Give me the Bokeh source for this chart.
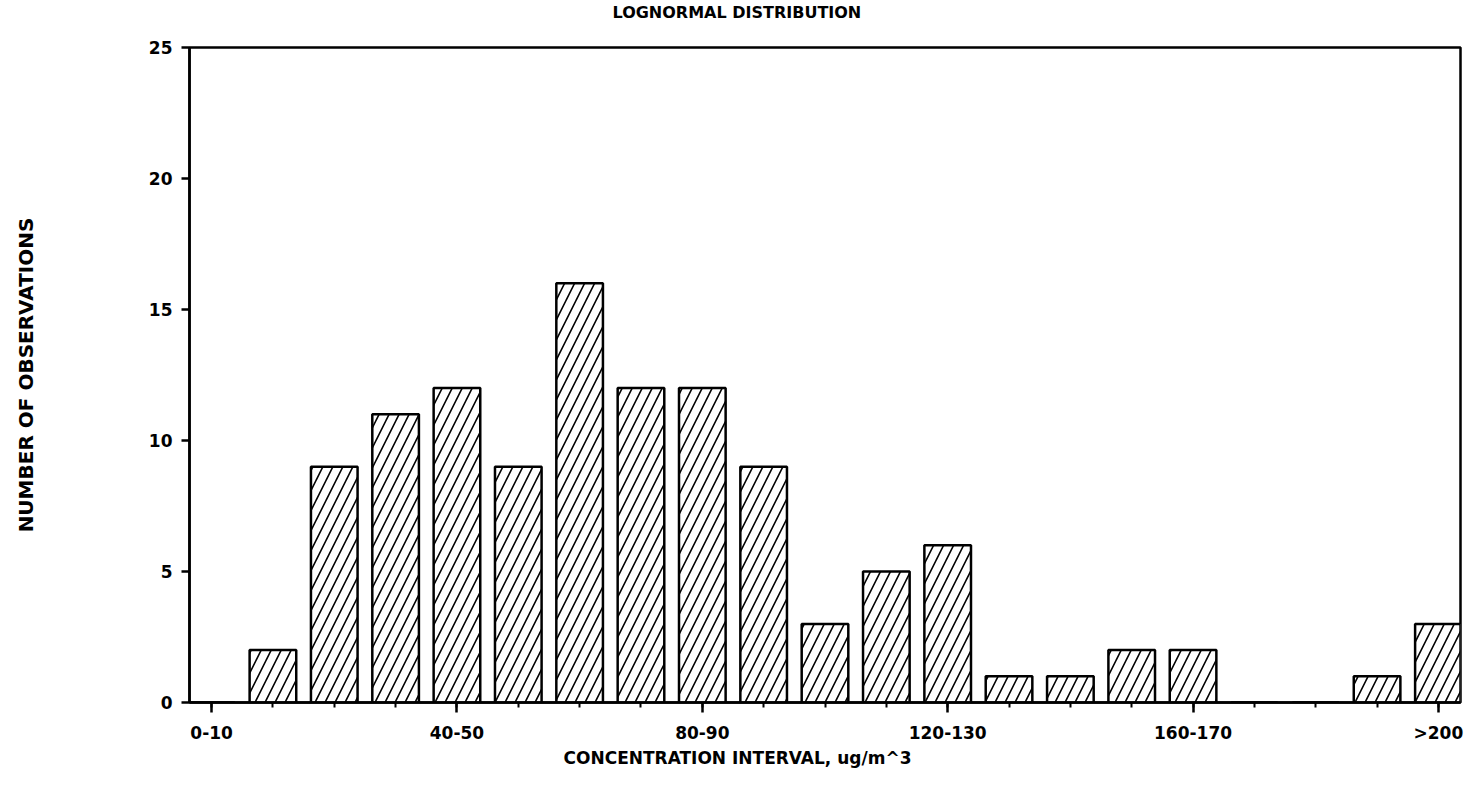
from bokeh.plotting import figure
from bokeh.models import ColumnDataSource, FixedTicker, Title, Range1d
from bokeh.embed import file_html
from bokeh.resources import INLINE

# ---- data ----
intervals = ["0-10", "10-20", "20-30", "30-40", "40-50", "50-60", "60-70",
             "70-80", "80-90", "90-100", "100-110", "110-120", "120-130",
             "130-140", "140-150", "150-160", "160-170", "170-180",
             "180-190", "190-200", ">200"]
counts = [0, 2, 9, 11, 12, 9, 16, 12, 12, 9, 3, 5, 6, 1, 1, 2, 2, 0, 0, 1, 3]
labeled_intervals = ["0-10", "40-50", "80-90", "120-130", "160-170", ">200"]
y_ticks = [0, 5, 10, 15, 20, 25]

title_text = "LOGNORMAL DISTRIBUTION"
x_title = "CONCENTRATION INTERVAL, ug/m^3"
y_title = "NUMBER OF OBSERVATIONS"

FONT = "DejaVu Sans"

idx = list(range(len(intervals)))
src = ColumnDataSource(dict(x=idx, top=counts, label=intervals))

p = figure(width=1467, height=790, output_backend="svg", toolbar_location=None,
           x_range=Range1d(-0.36, len(intervals) - 1 + 0.36),
           y_range=Range1d(y_ticks[0], y_ticks[-1]),
           min_border_left=189, min_border_right=7,
           min_border_top=47, min_border_bottom=88,
           background_fill_color="white", border_fill_color="white")

p.outline_line_color = "black"
p.outline_line_width = 2.5
p.outline_line_alpha = 1.0
p.grid.visible = False

p.vbar(x="x", top="top", bottom=0, width=0.76, source=src,
       fill_color="white", line_color="black", line_width=2.5,
       hatch_pattern="right_diagonal_line", hatch_color="black",
       hatch_scale=20, hatch_weight=1.6)

# x axis
major = [intervals.index(l) for l in labeled_intervals]
p.xaxis.ticker = FixedTicker(ticks=major, minor_ticks=idx)
p.xaxis.major_label_overrides = {i: intervals[i] for i in major}
p.xaxis.axis_line_width = 2.5
p.xaxis.major_tick_out = 10
p.xaxis.major_tick_in = 0
p.xaxis.minor_tick_out = 5
p.xaxis.minor_tick_in = 0
p.xaxis.major_tick_line_width = 2.5
p.xaxis.minor_tick_line_width = 2
p.xaxis.major_label_standoff = 10
p.xaxis.major_label_text_font = FONT
p.xaxis.major_label_text_font_style = "bold"
p.xaxis.major_label_text_font_size = "17px"
p.xaxis.major_label_text_color = "black"

# y axis
p.yaxis.ticker = FixedTicker(ticks=y_ticks)
p.yaxis.axis_line_width = 2.5
p.yaxis.major_tick_out = 8
p.yaxis.major_tick_in = 0
p.yaxis.minor_tick_line_color = None
p.yaxis.major_tick_line_width = 2.5
p.yaxis.major_label_standoff = 9
p.yaxis.major_label_text_font = FONT
p.yaxis.major_label_text_font_style = "bold"
p.yaxis.major_label_text_font_size = "17px"
p.yaxis.major_label_text_color = "black"
p.yaxis.axis_label = y_title
p.yaxis.axis_label_text_font = FONT
p.yaxis.axis_label_text_font_style = "bold"
p.yaxis.axis_label_text_font_size = "20px"
p.yaxis.axis_label_text_color = "black"
p.yaxis.axis_label_standoff = 108

# titles: a blank spacer sits next to the frame, the real title above it
p.add_layout(Title(text=" ", standoff=2,
                   text_font=FONT, text_font_size="15px"), "above")
p.add_layout(Title(text=title_text, align="left", offset=423, standoff=4,
                   vertical_align="top",
                   text_font=FONT, text_font_style="bold",
                   text_font_size="16px", text_color="black"), "above")
p.add_layout(Title(text=x_title, align="left", offset=374, standoff=0,
                   text_font=FONT, text_font_style="bold",
                   text_font_size="17px", text_color="black"), "below")

open("out.html", "w").write(file_html(p, INLINE))
